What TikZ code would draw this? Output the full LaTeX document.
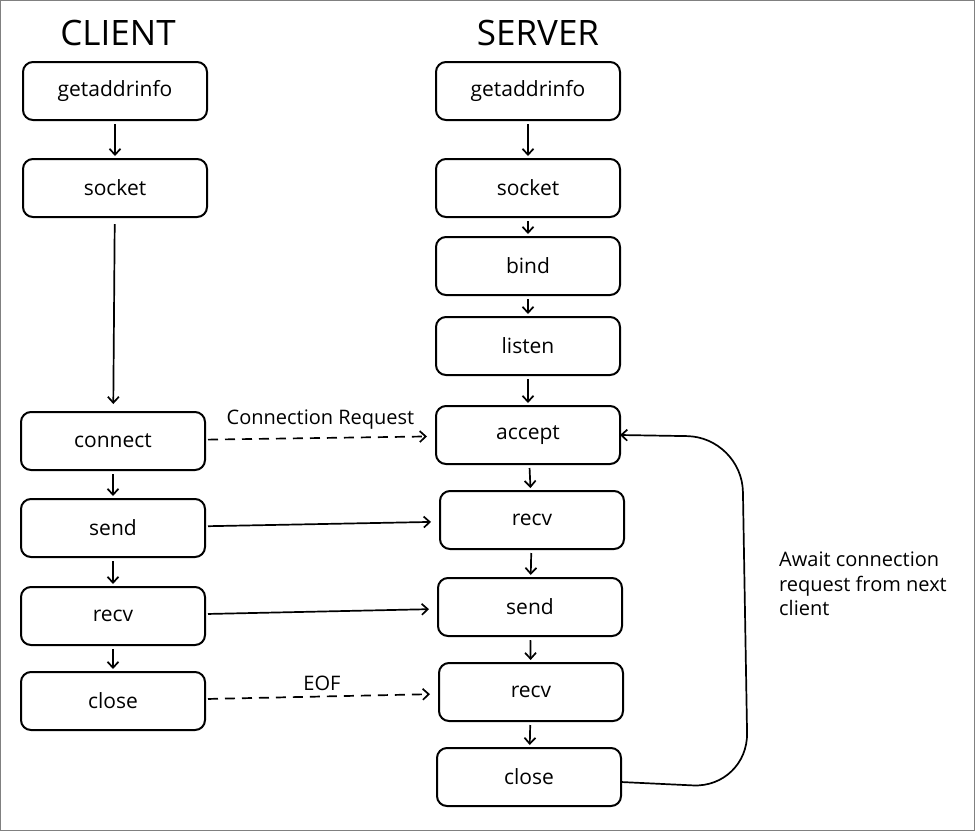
\documentclass[tikz,border=0pt]{standalone}
\usepackage{fontspec}
\setmainfont{Open Sans}
\usetikzlibrary{arrows.meta,positioning}

\begin{document}
\begin{tikzpicture}[
	x = 1pt, y = -1pt, % pixel-like units
	> = {Straight Barb[length=6pt,width=11pt]}, % arrow head style
	line width = 1.7pt, % line style
	box/.style={rectangle, rounded corners=10pt, draw=black, line width=2pt, outer sep=0pt, minimum width=184pt, minimum height=58pt, font=\fontsize{21}{25}\selectfont},
	title/.style={font=\fontsize{35}{40}\selectfont},
	lbl/.style={font=\fontsize{20}{24.5}\selectfont},
	down/.style={->, shorten < = 4pt, shorten > = 3pt},
	msg/.style={->, shorten < = 3pt, shorten > = 9pt},
	dashline/.style={dash pattern=on 10pt off 7pt},
	]

	% frame
	\useasboundingbox (0,0) rectangle (975,831);
	\draw[gray, line width=1pt] (0.5,0.5) rectangle (974.5,830.5);

	% Titles
	\node[title] (ctitle) at (118,33) {CLIENT};
	\node[title] (stitle) at (538,33) {SERVER};

	% Client nodes
	\node[box] (cgai) at (115,91) {getaddrinfo};
	\node[box] (csock)  [below = 39pt of cgai] {socket};
	\node[box] (cconn)  [below = 195pt of csock, xshift=-2pt] {connect};
	\node[box] (csend)  [below = 29pt of cconn] {send};
	\node[box] (crecv)  [below = 30pt of csend] {recv};
	\node[box] (cclose) [below = 27pt of crecv] {close};

	% Server nodes
	\node[box] (sgai) at (528,91) {getaddrinfo};
	\node[box] (ssock)   [below = 39pt of sgai] {socket};
	\node[box] (sbind)   [below = 20pt of ssock] {bind};
	\node[box] (slisten) [below = 22pt of sbind] {listen};
	\node[box] (saccept) [below = 31pt of slisten] {accept};
	\node[box] (srecva)  [below = 27pt of saccept, xshift=4pt] {recv};
	\node[box] (ssend)   [below = 29pt of srecva, xshift=-2pt] {send};
	\node[box] (srecvb)  [below = 27pt of ssend, xshift=1pt] {recv};
	\node[box] (sclose)  [below = 27pt of srecvb, xshift=-2pt] {close};

	% Note
	\node[lbl, align=left, anchor=north west] (await) at (775,548) {Await connection\\request from next\\client};

	% Paths connecting nodes
	\foreach \a/\b in {cgai/csock, cconn/csend, csend/crecv, crecv/cclose}
		\draw[down] (\a) -- (\b);
	\draw[down, shorten < = 7pt, shorten > = 8pt] (csock) -- (cconn);
	\foreach \a/\b in {sgai/ssock, ssock/sbind, sbind/slisten, slisten/saccept, saccept/srecva, srecva/ssend, ssend/srecvb, srecvb/sclose}
		\draw[down] (\a) -- (\b);

	\draw[msg, dashline] (cconn) -- node[lbl, above=5pt] {Connection Request} (saccept);
	\draw[msg] (csend) -- (srecva);
	\draw[msg] (crecv) -- (ssend);
	\draw[msg, dashline] (cclose) -- node[lbl, above=2pt] {EOF} (srecvb);

	\draw[->, rounded corners=55pt] ([yshift=-5pt]sclose.east) -- (748,788) -- (742,437) -- (saccept.east);

\end{tikzpicture}
\end{document}
